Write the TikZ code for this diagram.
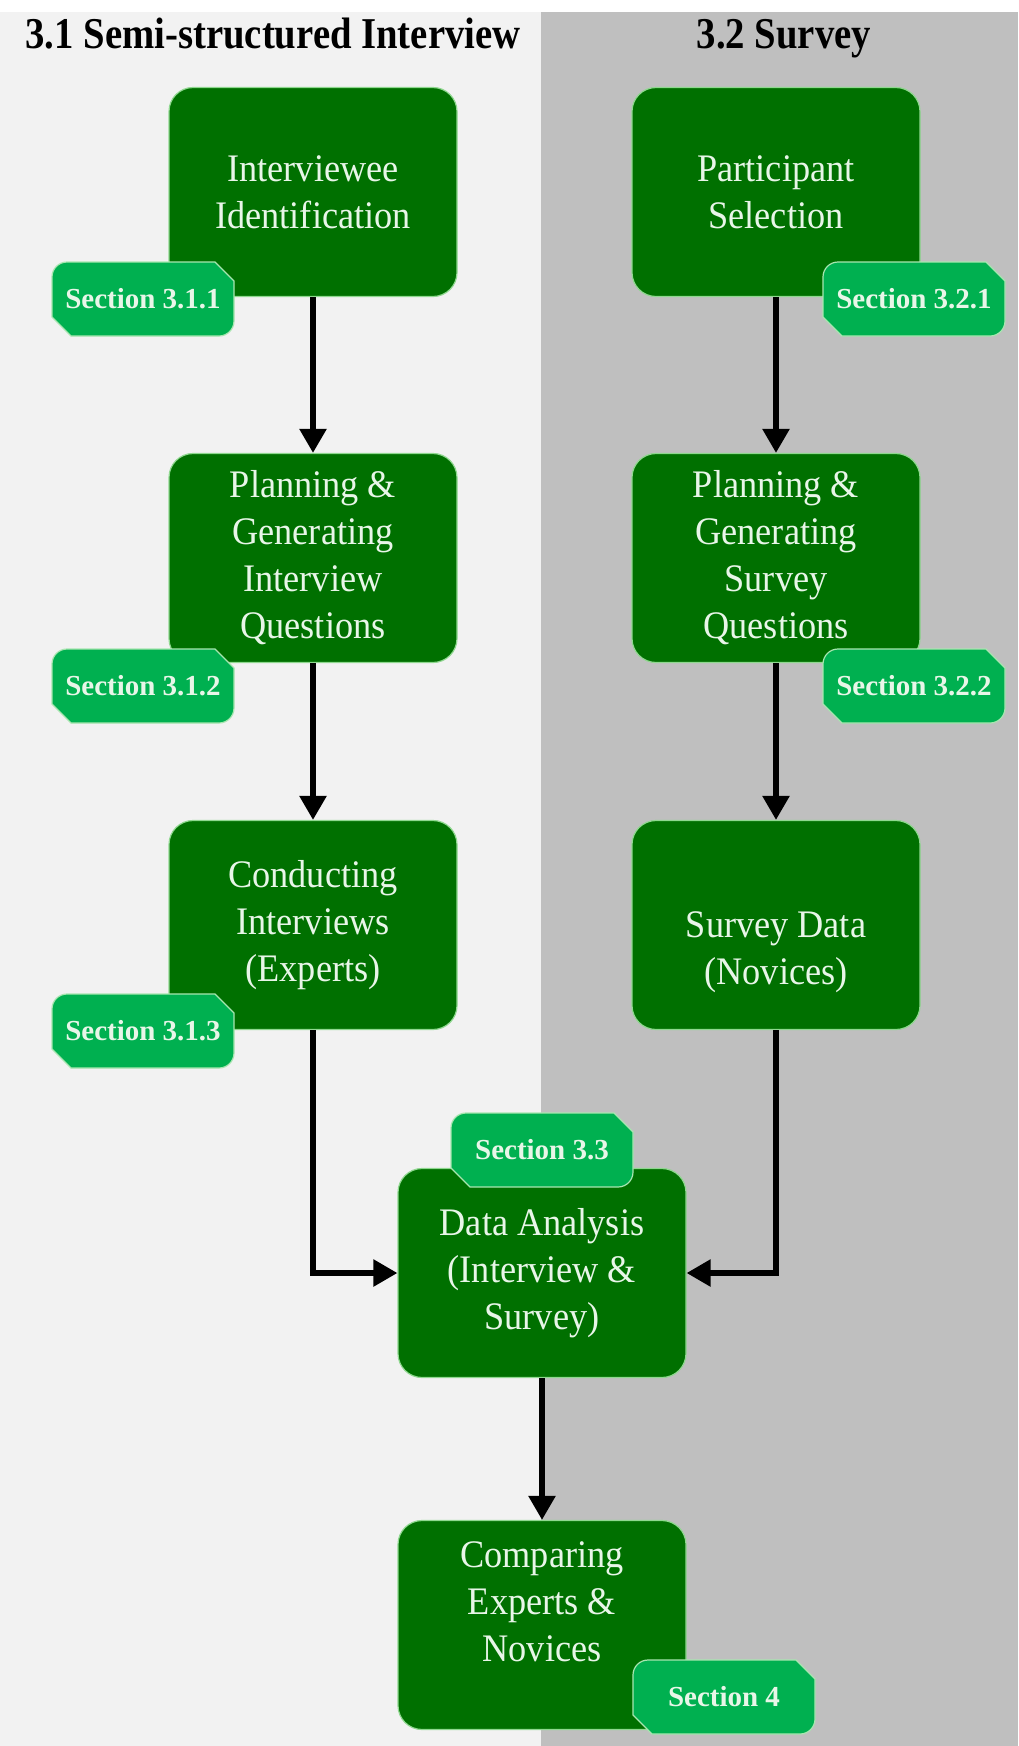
\documentclass[tikz,border=0pt]{standalone}
\usepackage{fontspec}
\setmainfont[FakeStretch=0.93]{Liberation Serif}
\newfontfamily\tagfont{Liberation Serif}
\newfontfamily\headfont[FakeStretch=0.88]{Liberation Serif}
\usetikzlibrary{arrows.meta}

\definecolor{panelleft}{HTML}{F2F2F2}
\definecolor{panelright}{HTML}{BFBFBF}
\definecolor{stepgreen}{HTML}{007000}
\definecolor{stepedge}{HTML}{8FD88F}
\definecolor{taggreen}{HTML}{00B050}
\definecolor{tagedge}{HTML}{A8E6B0}
\definecolor{paletext}{HTML}{E8F6E8}

\tikzset{
  stepbox/.style={fill=stepgreen, draw=stepedge, line width=1.2pt, rounded corners=24pt,
    minimum width=288pt, minimum height=209pt, inner sep=0pt, align=center,
    text=paletext, font=\fontsize{39}{47}\selectfont},
  tagtext/.style={text=paletext, font=\tagfont\bfseries\fontsize{29}{34}\selectfont, inner sep=0pt},
  tagshape/.style={fill=taggreen, draw=tagedge, line width=1.2pt},
  flow/.style={line width=5.5pt, -{Triangle[length=24pt,width=26pt]}},
  heading/.style={font=\headfont\bfseries\fontsize{44}{50}\selectfont}
}

% section tag: name, x, y, label
\newcommand\sectiontag[4]{%
  \filldraw[tagshape] (#2-72,#3+37) -- (#2+76,#3+37)
     arc[start angle=-90, end angle=0, radius=15pt] -- (#2+91,#3-18)
     -- (#2+72,#3-37) -- (#2-76,#3-37)
     arc[start angle=90, end angle=180, radius=15pt] -- (#2-91,#3+18) -- cycle;
  \node[tagtext] (#1) at (#2,#3) {#4};
}

\begin{document}
\begin{tikzpicture}[x=1pt, y=-1pt]
            \def \xleft      {313}
            \def \xright     {776}
            \def \xmid       {542}
            \def \xtagleft   {143}
            \def \xtagright  {914}

            \def \yhead      {48}
            \def \yone       {192}
            \def \ytwo       {558}
            \def \ythree     {925}
            \def \yfour      {1273}
            \def \yfive      {1625}

            \useasboundingbox (0,0) rectangle (1018,1746);
% panels
            \fill[panelleft] (0,12) rectangle (541,1746);
            \fill[panelright] (541,12) rectangle (1018,1746);

            \node[heading, anchor=base west] (headleft) at (22,\yhead) {3.1 Semi-structured Interview};
            \node[heading, anchor=base] (headright) at (784,\yhead) {3.2 Survey};

% steps
            \node[stepbox] (interviewee) at (\xleft,\yone) {Interviewee\\Identification};
            \node[stepbox] (participant) at (\xright,\yone) {Participant\\Selection};
            \node[stepbox] (planint) at (\xleft,\ytwo) {Planning \&\\Generating\\Interview\\Questions};
            \node[stepbox] (plansurv) at (\xright,\ytwo) {Planning \&\\Generating\\Survey\\Questions};
            \node[stepbox] (conduct) at (\xleft,\ythree) {Conducting\\Interviews\\(Experts)};
            \node[stepbox] (survey) at (\xright,\ythree) {\strut\\Survey Data\\(Novices)};
            \node[stepbox] (analysis) at (\xmid,\yfour) {Data Analysis\\(Interview \&\\Survey)};
            \node[stepbox] (compare) at (\xmid,\yfive) {Comparing\\Experts \&\\Novices\\\mbox{}};

% arrows
            \draw[flow] (interviewee.south) -- (planint.north);
            \draw[flow] (planint.south) -- (conduct.north);
            \draw[flow] (participant.south) -- (plansurv.north);
            \draw[flow] (plansurv.south) -- (survey.north);
            \draw[flow] (conduct.south) |- (analysis.west);
            \draw[flow] (survey.south) |- (analysis.east);
            \draw[flow] (analysis.south) -- (compare.north);

% section tags
            \sectiontag{sec311}{\xtagleft}{299}{Section 3.1.1}
            \sectiontag{sec321}{\xtagright}{299}{Section 3.2.1}
            \sectiontag{sec312}{\xtagleft}{686}{Section 3.1.2}
            \sectiontag{sec322}{\xtagright}{686}{Section 3.2.2}
            \sectiontag{sec313}{\xtagleft}{1031}{Section 3.1.3}
            \sectiontag{sec33}{\xmid}{1150}{Section 3.3}
            \sectiontag{sec4}{724}{1697}{Section 4}
\end{tikzpicture}
\end{document}
